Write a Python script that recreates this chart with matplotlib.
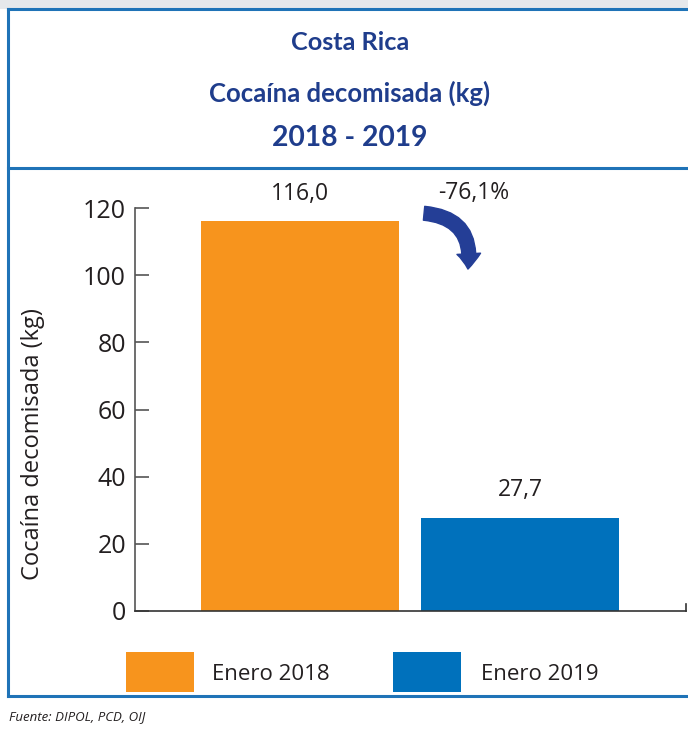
import matplotlib
matplotlib.use("Agg")
import matplotlib.pyplot as plt
import matplotlib.patches as mpatches
from matplotlib.lines import Line2D

categories = ["Enero 2018", "Enero 2019"]
values = [116.0, 27.7]
value_labels = ["116,0", "27,7"]
change_label = "-76,1%"
yticks = [0, 20, 40, 60, 80, 100, 120]
colors = ["#F7941D", "#0071BC"]
title_lines = ["Costa Rica", "Cocaína decomisada (kg)", "2018 - 2019"]
ylabel = "Cocaína decomisada (kg)"
source = "Fuente: DIPOL, PCD, OIJ"

W, H = 688, 730
fig = plt.figure(figsize=(W / 100, H / 100), dpi=100)
fig.patch.set_facecolor("white")

def fx(px):
    return px / W

def fy(py):
    return 1 - py / H

font = ["Open Sans", "DejaVu Sans"]
title_font = ["Lato", "DejaVu Sans"]
frame_col = "#1F73B7"
title_col = "#1F3D8C"
text_col = "#231F20"

# faint grey strip above the frame
fig.add_artist(mpatches.Rectangle((0, fy(9)), 1, 9 / H, transform=fig.transFigure,
                                  facecolor="#E6E8EB", edgecolor="none", zorder=0))

# frame lines
for xs, ys in [((8, 8), (9, 696)), ((8, 688), (9, 9)), ((8, 688), (168, 168)),
               ((8, 688), (696, 696))]:
    fig.add_artist(Line2D([fx(xs[0]), fx(xs[1])], [fy(ys[0]), fy(ys[1])],
                          transform=fig.transFigure, color=frame_col, lw=2.2))

# title block
for txt, y, fs in zip(title_lines, [42, 93, 138], [18.2, 18.5, 20.3]):
    fig.text(fx(350), fy(y), txt, ha="center", va="center", color=title_col,
             fontsize=fs, fontweight="bold", family=title_font)

# axes
ax = fig.add_axes([fx(135), fy(611), fx(686) - fx(135), fy(208) - fy(611)])
x = [0, 1]
ax.bar(x, values, width=0.9, color=colors, zorder=2)
ax.set_xlim(-0.75, 1.752)
ax.set_ylim(0, 120)
ax.set_yticks(yticks)
ax.set_xticks([])
ax.tick_params(axis="y", direction="in", length=10, width=1.2, color="#555555",
               labelsize=18, labelcolor=text_col, pad=6.5)
for lbl in ax.get_yticklabels():
    lbl.set_family(font)
for s in ["top", "right"]:
    ax.spines[s].set_visible(False)
ax.spines["left"].set_color("#555555")
ax.spines["bottom"].set_color("#333333")
ax.spines["left"].set_linewidth(1.2)
ax.spines["bottom"].set_linewidth(1.2)

fig.text(fx(33), fy(444), ylabel, rotation=90, ha="center", va="center",
         fontsize=17, color=text_col, family=font)

# small end tick on the right of the x axis
ax.plot([1.75, 1.75], [0, 2.2], color="#333333", lw=1.2, clip_on=False)

for xi, v, lbl in zip(x, values, value_labels):
    ax.text(xi, v + 8.3, lbl, ha="center", va="center", fontsize=16.5,
            color=text_col, family=font, clip_on=False)

ax.text(0.79, 124.6, change_label, ha="center", va="center", fontsize=16.5,
        color=text_col, family=font, clip_on=False)

arrow = mpatches.FancyArrowPatch((0.55, 118.5), (0.76, 101),
                                 connectionstyle="arc3,rad=-0.55",
                                 arrowstyle="simple,head_width=17,head_length=11,tail_width=10",
                                 color="#243E96", zorder=5, clip_on=False)
ax.add_patch(arrow)

# legend
for (x0, x1), tx, c, lbl in [((126, 194), 212, colors[0], categories[0]),
                             ((393, 461), 481, colors[1], categories[1])]:
    fig.add_artist(mpatches.Rectangle((fx(x0), fy(692)), fx(x1) - fx(x0), 40 / H,
                                      transform=fig.transFigure, facecolor=c,
                                      edgecolor="none"))
    fig.text(fx(tx), fy(675), lbl, ha="left", va="center", fontsize=16,
             color=text_col, family=font)

fig.text(fx(9), fy(717), source, ha="left", va="center", fontsize=9.5,
         style="italic", color=text_col, family=font)

fig.savefig("out.png", dpi=100)
